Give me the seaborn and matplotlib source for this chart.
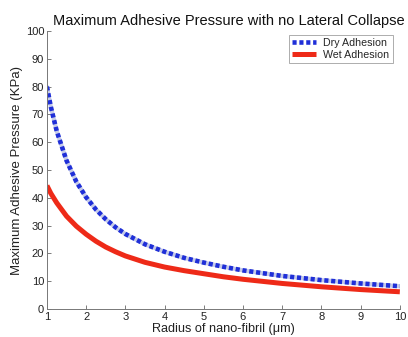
import matplotlib
matplotlib.use("Agg")
import matplotlib.pyplot as plt
import seaborn as sns
import pandas as pd
from matplotlib.lines import Line2D

radius = [1, 1.1, 1.25, 1.5, 1.75, 2, 2.25, 2.5, 2.75, 3, 3.5, 4, 4.5, 5, 5.5, 6, 7, 8, 9, 10]
dry = [80, 72.7, 64, 53.4, 45.8, 40.2, 35.8, 32.3, 29.4, 27.0, 23.3, 20.6, 18.4, 16.7, 15.2, 13.9, 11.9, 10.4, 9.2, 8.2]
wet = [44.4, 41.6, 38.2, 33.4, 29.8, 26.9, 24.4, 22.3, 20.6, 19.1, 16.8, 15.1, 13.8, 12.7, 11.6, 10.7, 9.2, 8.0, 7.0, 6.2]
series_names = ["Dry Adhesion", "Wet Adhesion"]
x_ticks = [1, 2, 3, 4, 5, 6, 7, 8, 9, 10]
y_ticks = [0, 10, 20, 30, 40, 50, 60, 70, 80, 90, 100]

sns.set_style("white")
plt.rcParams["font.family"] = ["Liberation Sans", "DejaVu Sans"]

df = pd.DataFrame({"r": radius, "dry": dry, "wet": wet})

fig = plt.figure(figsize=(4.08, 3.37), dpi=100)
ax = fig.add_axes([0.115, 0.083, 0.865, 0.825])

blue = "#1f2fd8"
red = "#ee2a18"

# pale underlay for the dotted line
sns.lineplot(data=df, x="r", y="dry", ax=ax, color="#c5cbe8", linewidth=3.0)
sns.lineplot(data=df, x="r", y="dry", ax=ax, color=blue, linewidth=3.3)
ax.lines[-1].set_dashes((0.9, 0.6))
ax.lines[-1].set_dash_capstyle("butt")
sns.lineplot(data=df, x="r", y="wet", ax=ax, color=red, linewidth=3.6)
ax.lines[-1].set_solid_capstyle("butt")
ax.lines[-1].set_solid_joinstyle("round")

ax.set_xlim(1, 10)
ax.set_ylim(0, 100)
ax.set_xticks(x_ticks)
ax.set_yticks(y_ticks)
ax.tick_params(direction="in", length=3, width=0.6, color="#666666",
               labelsize=8, labelcolor="#222222", pad=2,
               bottom=True, left=True)
for s in ["top", "right"]:
    ax.spines[s].set_visible(False)
for s in ["left", "bottom"]:
    ax.spines[s].set_color("#777777")
    ax.spines[s].set_linewidth(0.7)

ax.set_xlabel("Radius of nano-fibril (\u03bcm)", fontsize=9.1, color="#222222", labelpad=1)
ax.set_ylabel("Maximum Adhesive Pressure (KPa)", fontsize=9.5, color="#222222", labelpad=2)
ax.set_title("Maximum Adhesive Pressure with no Lateral Collapse", fontsize=10.5,
             color="#111111", pad=4, x=0.515)

handles = [
    Line2D([], [], color=blue, linewidth=3.3, dashes=(0.9, 0.6), dash_capstyle="butt"),
    Line2D([], [], color=red, linewidth=3.6, solid_capstyle="butt"),
]
leg = ax.legend(handles, series_names, loc="upper right", fontsize=7.7,
                frameon=True, fancybox=False, edgecolor="#888888",
                handlelength=2.2, borderpad=0.3, labelspacing=0.15,
                handletextpad=0.7, bbox_to_anchor=(0.995, 1.005))
leg.get_frame().set_linewidth(0.6)

fig.savefig("out.png", dpi=100, facecolor="white")
